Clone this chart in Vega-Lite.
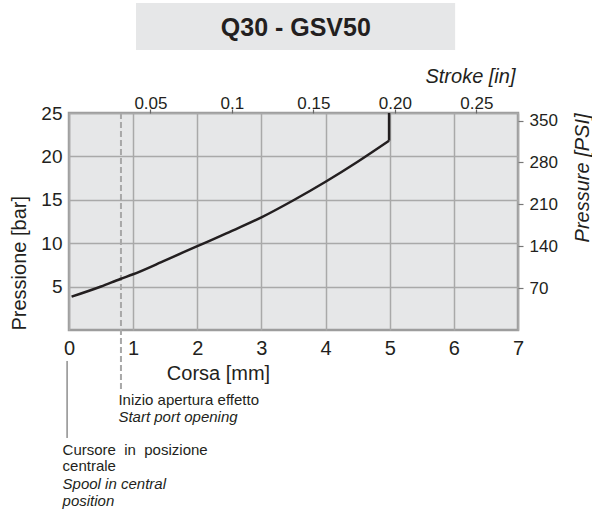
{
  "$schema": "https://vega.github.io/schema/vega-lite/v6.json",
  "width": 449,
  "height": 217,
  "autosize": {"type": "none"},
  "padding": {"left": 69, "top": 113, "right": 74, "bottom": 184},
  "background": "white",
  "config": {
    "font": "Liberation Sans",
    "view": {"fill": "#e6e7e8", "stroke": "#9d9d9d", "strokeWidth": 2.5},
    "axis": {
      "labelFont": "Liberation Sans",
      "titleFont": "Liberation Sans",
      "labelColor": "#231f20",
      "titleColor": "#231f20",
      "titleFontWeight": "normal",
      "domain": false,
      "gridColor": "#a9a9a9",
      "gridWidth": 1.5,
      "labelFlush": false,
      "labelOverlap": false
    }
  },
  "datasets": {
    "curve": [
      {"x": 0.04, "y": 3.84},
      {"x": 0.5, "y": 5.01},
      {"x": 0.8, "y": 5.88},
      {"x": 1.0, "y": 6.42},
      {"x": 1.5, "y": 8.02},
      {"x": 2.0, "y": 9.66},
      {"x": 2.5, "y": 11.28},
      {"x": 3.0, "y": 12.98},
      {"x": 3.5, "y": 14.95},
      {"x": 4.0, "y": 17.08},
      {"x": 4.5, "y": 19.39},
      {"x": 4.99, "y": 21.81}
    ],
    "notes": [
      {"x": 0.77, "y": -8.64, "lang": "it", "text": "Inizio apertura effetto"},
      {"x": 0.77, "y": -10.6, "lang": "en", "text": "Start port opening"},
      {"x": -0.1, "y": -14.4, "lang": "it", "text": "Cursore\u00a0 in\u00a0 posizione"},
      {"x": -0.1, "y": -16.3, "lang": "it", "text": "centrale"},
      {"x": -0.1, "y": -18.3, "lang": "en", "text": "Spool in central"},
      {"x": -0.1, "y": -20.3, "lang": "en", "text": "position"}
    ]
  },
  "layer": [
    {
      "encoding": {
        "x": {
          "field": "x",
          "type": "quantitative",
          "scale": {"domain": [0, 7], "nice": false, "zero": false},
          "axis": {
            "orient": "bottom",
            "values": [0, 1, 2, 3, 4, 5, 6, 7],
            "format": "d",
            "ticks": false,
            "labelFontSize": 20,
            "labelPadding": 8,
            "grid": true,
            "title": "Corsa [mm]",
            "titleFontSize": 20,
            "titleX": 149,
            "titleY": 49,
            "titleAlign": "center",
            "titleBaseline": "alphabetic"
          }
        },
        "y": {
          "field": "y",
          "type": "quantitative",
          "scale": {"domain": [0, 25], "nice": false, "zero": false},
          "axis": {
            "orient": "left",
            "values": [5, 10, 15, 20, 25],
            "ticks": false,
            "labelFontSize": 19,
            "labelPadding": 7,
            "grid": true,
            "title": "Pressione [bar]",
            "titleFontSize": 20,
            "titleAngle": -90,
            "titleX": -44,
            "titleY": 217,
            "titleAlign": "left",
            "titleBaseline": "alphabetic"
          }
        }
      },
      "layer": [
        {
          "data": {"values": [{"x": 1.045, "x2": 6.02, "y": 37.67, "y2": 32.26}]},
          "mark": {"type": "rect", "color": "#e6e7e8"},
          "encoding": {"x2": {"field": "x2"}, "y2": {"field": "y2"}}
        },
        {
          "data": {"values": [{"x": 3.536, "y": 33.87, "text": "Q30 - GSV50"}]},
          "mark": {"type": "text", "fontSize": 25, "fontWeight": "bold", "align": "center", "baseline": "alphabetic", "color": "#231f20"},
          "encoding": {"text": {"field": "text"}}
        },
        {
          "data": {"values": [{"x": 0.81, "y": 25, "y2": -7.14}]},
          "mark": {"type": "rule", "color": "#a8a8a8", "strokeWidth": 2, "strokeDash": [6, 3]},
          "encoding": {"y2": {"field": "y2"}}
        },
        {
          "data": {"values": [{"x": -0.03, "y": -3.57, "y2": -12.44}]},
          "mark": {"type": "rule", "color": "#555555", "strokeWidth": 1},
          "encoding": {"y2": {"field": "y2"}}
        },
        {
          "data": {"name": "curve"},
          "mark": {"type": "line", "color": "#231f20", "strokeWidth": 2.5, "interpolate": "monotone"}
        },
        {
          "data": {"values": [{"x": 4.99, "y": 21.81, "y2": 25}]},
          "mark": {"type": "rule", "color": "#231f20", "strokeWidth": 2.5},
          "encoding": {"y2": {"field": "y2"}}
        },
        {
          "data": {"name": "notes"},
          "transform": [{"filter": "datum.lang == 'it'"}],
          "mark": {"type": "text", "fontSize": 15, "align": "left", "baseline": "alphabetic", "color": "#231f20"},
          "encoding": {"text": {"field": "text"}}
        },
        {
          "data": {"name": "notes"},
          "transform": [{"filter": "datum.lang == 'en'"}],
          "mark": {"type": "text", "fontSize": 15, "fontStyle": "italic", "align": "left", "baseline": "alphabetic", "color": "#231f20"},
          "encoding": {"text": {"field": "text"}}
        }
      ]
    },
    {
      "data": {"values": [{"inch": 0}, {"inch": 0.2756}]},
      "mark": {"type": "point", "opacity": 0},
      "encoding": {
        "x": {
          "field": "inch",
          "type": "quantitative",
          "scale": {"domain": [0, 0.2756], "nice": false, "zero": false},
          "axis": {
            "orient": "top",
            "values": [0.05, 0.1, 0.15, 0.2, 0.25],
            "format": ".2~f",
            "labelExpr": "datum.value == 0.2 ? '0.20' : datum.label",
            "ticks": true,
            "tickSize": 4,
            "tickColor": "#666666",
            "tickWidth": 1.2,
            "labelFontSize": 17,
            "labelPadding": 1,
            "labelBaseline": "alphabetic",
            "grid": false,
            "title": "Stroke [in]",
            "titleFontSize": 20,
            "titleFontStyle": "italic",
            "titleX": 446,
            "titleY": -31,
            "titleAlign": "right",
            "titleBaseline": "alphabetic"
          }
        }
      }
    },
    {
      "data": {"values": [{"psi": 0}, {"psi": 362.6}]},
      "mark": {"type": "point", "opacity": 0},
      "encoding": {
        "y": {
          "field": "psi",
          "type": "quantitative",
          "scale": {"domain": [0, 362.6], "nice": false, "zero": false},
          "axis": {
            "orient": "right",
            "values": [70, 140, 210, 280, 350],
            "ticks": true,
            "tickSize": 5,
            "tickColor": "#777777",
            "tickWidth": 1.2,
            "labelFontSize": 17,
            "labelPadding": 6,
            "grid": false,
            "title": "Pressure [PSI]",
            "titleFontSize": 20,
            "titleFontStyle": "italic",
            "titleAngle": -90,
            "titleX": 70,
            "titleY": 0,
            "titleAlign": "right",
            "titleBaseline": "alphabetic"
          }
        }
      }
    }
  ],
  "resolve": {"scale": {"x": "independent", "y": "independent"}}
}
